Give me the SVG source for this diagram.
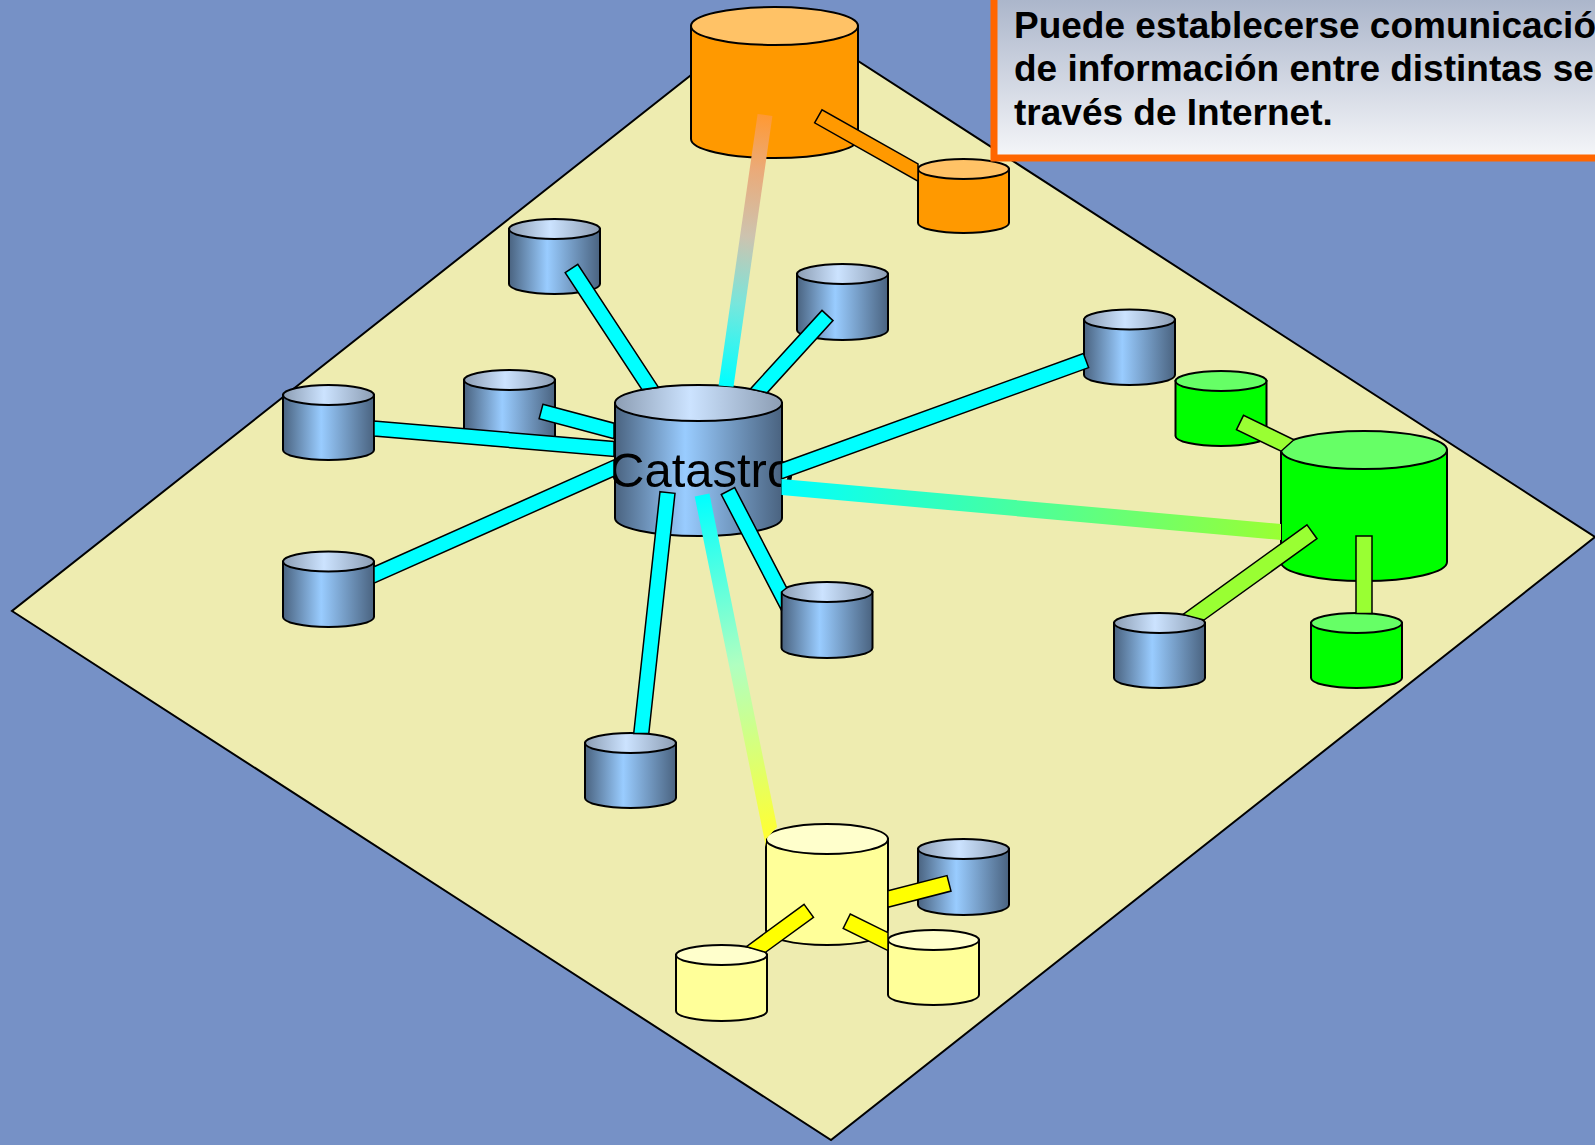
<svg xmlns="http://www.w3.org/2000/svg" width="1595" height="1145" viewBox="0 0 1595 1145">
<defs>
<linearGradient id="bb" x1="0" y1="0" x2="1" y2="0">
<stop offset="0" stop-color="#4a6380"/><stop offset="0.42" stop-color="#99ccff"/><stop offset="1" stop-color="#4a6380"/>
</linearGradient>
<linearGradient id="bt" x1="0" y1="0" x2="1" y2="0">
<stop offset="0" stop-color="#8c9db3"/><stop offset="0.45" stop-color="#cce3ff"/><stop offset="1" stop-color="#8c9db3"/>
</linearGradient>
<linearGradient id="box" x1="0" y1="0" x2="0" y2="1">
<stop offset="0" stop-color="#a7b2c8"/><stop offset="1" stop-color="#f5f6f9"/>
</linearGradient>
<linearGradient id="gO" gradientUnits="userSpaceOnUse" x1="727" y1="385" x2="765" y2="115">
<stop offset="0" stop-color="#00ffff"/><stop offset="0.3" stop-color="#78e6dc"/><stop offset="0.55" stop-color="#cdc3af"/><stop offset="0.8" stop-color="#ebaa78"/><stop offset="1" stop-color="#ff9933"/>
</linearGradient>
<linearGradient id="gM" gradientUnits="userSpaceOnUse" x1="781" y1="487" x2="1281" y2="532">
<stop offset="0" stop-color="#00ffff"/><stop offset="1" stop-color="#99ff33"/>
</linearGradient>
<linearGradient id="gY" gradientUnits="userSpaceOnUse" x1="702" y1="495" x2="772" y2="835">
<stop offset="0" stop-color="#00ffff"/><stop offset="0.5" stop-color="#b0ffc0"/><stop offset="1" stop-color="#ffff33"/>
</linearGradient>
</defs>
<style>
.cyl path,.cyl ellipse{stroke:#000;stroke-width:2}
.blue path{fill:url(#bb)} .blue ellipse{fill:url(#bt)}
.orange path{fill:#ff9900} .orange ellipse{fill:#ffc266}
.green path{fill:#00ff00} .green ellipse{fill:#66ff66}
.yellow path{fill:#ffff99} .yellow ellipse{fill:#ffffcc}
.bar{stroke:#000;stroke-width:1.5;stroke-linejoin:miter}
.c{fill:#00ffff} .g{fill:#99ff33} .o{fill:#ff9900} .y{fill:#ffff00}
.lbl{font-family:"Liberation Sans",Arial,sans-serif;font-size:49px;fill:#000}
.note{font-family:"Liberation Sans",Arial,sans-serif;font-size:37px;font-weight:bold;fill:#000}
</style>
<rect x="0" y="0" width="1595" height="1145" fill="#7691c6"/>
<polygon id="plane" points="776,8 1595,537 831,1140 12,611" fill="#eeecb0" stroke="#000" stroke-width="2"/>
<g id="nodes">
<g id="n-orange-big" class="cyl orange"><path d="M691 26 V139 A83.5 19 0 0 0 858 139 V26 Z"/><ellipse cx="774.5" cy="26" rx="83.5" ry="19"/></g>
<g id="n-orange-small" class="cyl orange"><path d="M918 169 V223 A45.5 10 0 0 0 1009 223 V169 Z"/><ellipse cx="963.5" cy="169" rx="45.5" ry="10"/></g>
<g id="n-blue-d" class="cyl blue"><path d="M509 229 V284 A45.5 10 0 0 0 600 284 V229 Z"/><ellipse cx="554.5" cy="229" rx="45.5" ry="10"/></g>
<g id="n-blue-e" class="cyl blue"><path d="M797 274 V330 A45.5 10 0 0 0 888 330 V274 Z"/><ellipse cx="842.5" cy="274" rx="45.5" ry="10"/></g>
<g id="n-blue-f" class="cyl blue"><path d="M1084 319.5 V375 A45.5 10 0 0 0 1175 375 V319.5 Z"/><ellipse cx="1129.5" cy="319.5" rx="45.5" ry="10"/></g>
<g id="n-green-k" class="cyl green"><path d="M1175.5 381 V436 A45.5 10 0 0 0 1266.5 436 V381 Z"/><ellipse cx="1221" cy="381" rx="45.5" ry="10"/></g>
<g id="n-blue-c" class="cyl blue"><path d="M464 380 V436 A45.5 10 0 0 0 555 436 V380 Z"/><ellipse cx="509.5" cy="380" rx="45.5" ry="10"/></g>
<g id="n-blue-a" class="cyl blue"><path d="M283 395 V450 A45.5 10 0 0 0 374 450 V395 Z"/><ellipse cx="328.5" cy="395" rx="45.5" ry="10"/></g>
<g id="n-catastro" class="cyl blue"><path d="M615 403 V518 A83.5 18 0 0 0 782 518 V403 Z"/><ellipse cx="698.5" cy="403" rx="83.5" ry="18"/><text class="lbl" x="609" y="487">Catastro</text></g>
<g id="n-green-big" class="cyl green"><path d="M1281 450 V562 A83 19 0 0 0 1447 562 V450 Z"/><ellipse cx="1364" cy="450" rx="83" ry="19"/></g>
<g id="n-blue-b" class="cyl blue"><path d="M283 561.5 V617 A45.5 10 0 0 0 374 617 V561.5 Z"/><ellipse cx="328.5" cy="561.5" rx="45.5" ry="10"/></g>
<g id="n-blue-g" class="cyl blue"><path d="M781.5 592 V648 A45.5 10 0 0 0 872.5 648 V592 Z"/><ellipse cx="827" cy="592" rx="45.5" ry="10"/></g>
<g id="n-blue-j" class="cyl blue"><path d="M1114 623 V678 A45.5 10 0 0 0 1205 678 V623 Z"/><ellipse cx="1159.5" cy="623" rx="45.5" ry="10"/></g>
<g id="n-green-l" class="cyl green"><path d="M1311 623 V678 A45.5 10 0 0 0 1402 678 V623 Z"/><ellipse cx="1356.5" cy="623" rx="45.5" ry="10"/></g>
<g id="n-blue-h" class="cyl blue"><path d="M585 743 V798 A45.5 10 0 0 0 676 798 V743 Z"/><ellipse cx="630.5" cy="743" rx="45.5" ry="10"/></g>
<g id="n-blue-i" class="cyl blue"><path d="M918 849 V905 A45.5 10 0 0 0 1009 905 V849 Z"/><ellipse cx="963.5" cy="849" rx="45.5" ry="10"/></g>
<g id="n-yellow-big" class="cyl yellow"><path d="M766 839 V930 A61 15 0 0 0 888 930 V839 Z"/><ellipse cx="827" cy="839" rx="61" ry="15"/></g>
<g id="n-yellow-r" class="cyl yellow"><path d="M888 940 V995 A45.5 10 0 0 0 979 995 V940 Z"/><ellipse cx="933.5" cy="940" rx="45.5" ry="10"/></g>
<g id="n-yellow-q" class="cyl yellow"><path d="M676 955 V1011 A45.5 10 0 0 0 767 1011 V955 Z"/><ellipse cx="721.5" cy="955" rx="45.5" ry="10"/></g>
</g>
<g id="connectors">
<polygon class="bar c" points="565.2,272.6 577.8,264.4 658.5,387.3 642,389.6"/>
<polygon class="bar c" points="822,310.4 833,320.6 767.1,392.8 750.4,388.9"/>
<polygon class="bar c" points="542.9,404.3 614,423.2 614,438.8 539.1,418.8"/>
<polygon class="bar c" points="374,421 614,441.5 614,456.5 374,436"/>
<polygon class="bar c" points="374,566.8 614,459.8 614,476.2 374,583.2"/>
<polygon class="bar c" points="781.5,463 1083.4,353.5 1088.6,367.6 781.5,479"/>
<polygon class="bar c" points="660,491.7 675,493.3 648.8,733.5 633.7,733.5"/>
<polygon class="bar c" points="721.3,494.5 734.7,487.6 786.7,587.9 781.5,592 781.5,610.4"/>
<polygon fill="url(#gO)" points="757.6,113.9 772.4,116.1 733.5,386.7 718.6,385.5"/>
<polygon fill="url(#gM)" points="781.5,479 1281,524 1281,540 781.5,495"/>
<polygon fill="url(#gY)" points="694.7,496.5 709.4,493.5 777.1,827 766,839 766,847"/>
<polygon class="bar o" points="814.6,122.8 822,109.8 918,163.9 918,181.1"/>
<polygon class="bar g" points="1236.5,429.7 1243.5,415.3 1293.9,439.7 1281.1,451.2"/>
<polygon class="bar g" points="1307,524.9 1317,538.7 1204,620 1183,614.5"/>
<polygon class="bar g" points="1356,536 1372,536 1372,613.5 1356,613.5"/>
<polygon class="bar y" points="888,890.7 947,875.6 951,891.1 888,907.3"/>
<polygon class="bar y" points="804.1,904.4 813.5,917.3 765.5,952.3 746.4,946.6"/>
<polygon class="bar y" points="843.2,928.4 850.3,914 888,932.7 888,950.6"/>
</g>
<g id="note">
<rect x="994" y="-10" width="640" height="168" fill="url(#box)" stroke="#ff6600" stroke-width="7"/>
<text class="note" x="1014" y="38">Puede establecerse comunicación</text>
<text class="note" x="1014" y="81">de información entre distintas sedes</text>
<text class="note" x="1014" y="125">través de Internet.</text>
</g>
</svg>
